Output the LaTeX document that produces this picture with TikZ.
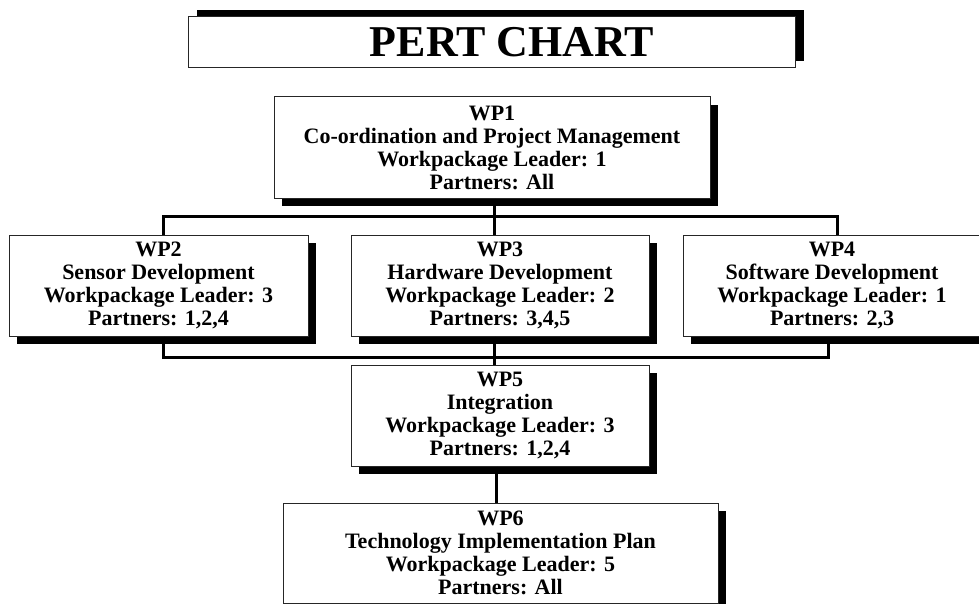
\documentclass[tikz,border=0pt]{standalone}
\usepackage{fontspec}
\setmainfont{Liberation Serif}
\usepackage{tikz}
\usetikzlibrary{calc,shadows}
\usepackage{xcolor}

\tikzset{
	wpbox/.style={draw=black!85, line width=1pt, fill=white, minimum height=101pt, inner sep=0pt, align=center,
		font=\bfseries\fontsize{22}{23}\selectfont,
		drop shadow={shadow xshift=8pt, shadow yshift=-8pt, opacity=1, fill=black}},
	titlebox/.style={draw=black!85, line width=1pt, fill=white, minimum width=607pt, minimum height=51pt, inner sep=0pt,
		font=\bfseries\fontsize{44}{48}\selectfont,
		drop shadow={shadow xshift=9pt, shadow yshift=7pt, opacity=1, fill=black}},
	link/.style={line width=3pt}
}

\begin{document}
\begin{tikzpicture}[x=1pt, y=-1pt]
			\useasboundingbox (0,0) rectangle (979,604);
			\def\busup{216};
			\def\buslow{357};
			\node[titlebox] (title) at (491.5,42.5) {\hspace*{41pt}PERT CHART};
			\node[wpbox, minimum width=436pt] (wp1) at (492,147.5) {WP1\\Co-ordination and Project Management\\Workpackage Leader: 1\\Partners: All};
			\node[wpbox, minimum width=299pt] (wp2) at (158.5,285.5) {WP2\\Sensor Development\\Workpackage Leader: 3\\Partners: 1,2,4};
			\node[wpbox, minimum width=298pt] (wp3) at (500,285.5) {WP3\\Hardware Development\\Workpackage Leader: 2\\Partners: 3,4,5};
			\node[wpbox, minimum width=298pt] (wp4) at (832,285.5) {WP4\\Software Development\\Workpackage Leader: 1\\Partners: 2,3};
			\node[wpbox, minimum width=298pt] (wp5) at (500,415.5) {WP5\\Integration\\Workpackage Leader: 3\\Partners: 1,2,4};
			\node[wpbox, minimum width=435pt, minimum height=100pt] (wp6) at (500.5,553) {WP6\\Technology Implementation Plan\\Workpackage Leader: 5\\Partners: All};
			% upper bus
			\coordinate (bustop) at (494,\busup);
			\draw[link] ([xshift=2pt]wp1.south) -- (bustop);
			\draw[link] ([xshift=4.5pt]wp2.north) |- (bustop) -| ([xshift=5pt]wp4.north);
			\draw[link] (bustop) -- ([xshift=-6pt]wp3.north);
			% lower bus
			\coordinate (busbot) at (494,\buslow);
			\draw[link] ([xshift=4.5pt]wp2.south) |- (busbot) -| ([xshift=-4pt]wp4.south);
			\draw[link] ([xshift=-6pt]wp3.south) -- ([xshift=-6pt]wp5.north);
			\draw[link] ([xshift=-4pt]wp5.south) -- ([xshift=-4.5pt]wp6.north);
			\end{tikzpicture}
\end{document}
